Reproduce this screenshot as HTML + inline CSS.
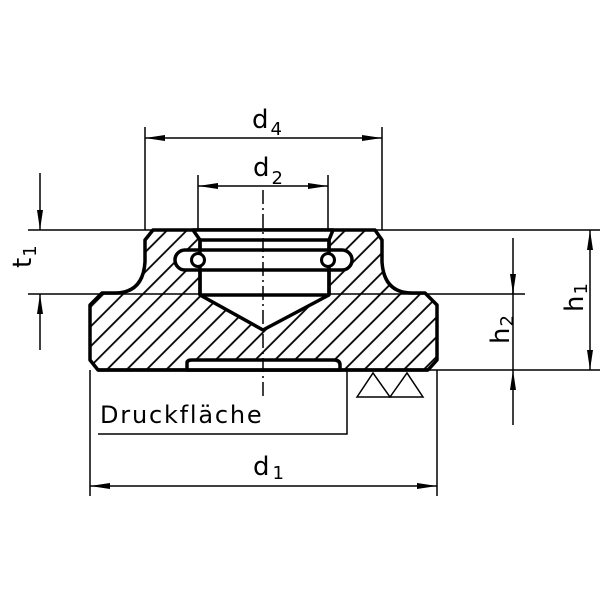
<!DOCTYPE html>
<html><head><meta charset="utf-8"><style>
html,body{margin:0;padding:0;background:#fff}
svg{display:block}
text{font-family:"DejaVu Sans","Liberation Sans",sans-serif;fill:#000}
</style></head><body>
<svg width="600" height="600" viewBox="0 0 600 600" xmlns="http://www.w3.org/2000/svg">
<defs>
<pattern id="h" patternUnits="userSpaceOnUse" width="14" height="14" patternTransform="rotate(45)">
<line x1="1" y1="0" x2="1" y2="14" stroke="#000" stroke-width="1.8"/>
</pattern>
<marker id="a" viewBox="0 0 20 6" refX="20" refY="3" markerWidth="20" markerHeight="6" markerUnits="userSpaceOnUse" orient="auto-start-reverse">
<path d="M0,0 L20,3 L0,6 Z" fill="#000"/>
</marker>
</defs>
<g stroke="#000" stroke-width="1.5" fill="none">
<line x1="28" y1="230" x2="600" y2="230"/>
<line x1="28" y1="294" x2="525" y2="294"/>
<line x1="340" y1="370" x2="600" y2="370"/>
<line x1="145" y1="127" x2="145" y2="230"/>
<line x1="382" y1="127" x2="382" y2="230"/>
<line x1="198" y1="175" x2="198" y2="230"/>
<line x1="328" y1="175" x2="328" y2="230"/>
<line x1="90" y1="370" x2="90" y2="496"/>
<line x1="437" y1="370" x2="437" y2="496"/>
<line x1="145" y1="138" x2="382" y2="138" marker-start="url(#a)" marker-end="url(#a)"/>
<line x1="198" y1="186" x2="328" y2="186" marker-start="url(#a)" marker-end="url(#a)"/>
<line x1="90" y1="486" x2="437" y2="486" marker-start="url(#a)" marker-end="url(#a)"/>
<line x1="590" y1="230" x2="590" y2="370" marker-start="url(#a)" marker-end="url(#a)"/>
<line x1="40" y1="173" x2="40" y2="230" marker-end="url(#a)"/>
<line x1="40" y1="350" x2="40" y2="294" marker-end="url(#a)"/>
<line x1="513" y1="238" x2="513" y2="294"/>
<line x1="513" y1="274" x2="513" y2="294" marker-end="url(#a)"/>
<line x1="513" y1="294" x2="513" y2="370"/>
<line x1="513" y1="425" x2="513" y2="370" marker-end="url(#a)"/>
<polyline points="347,370 347,434 98,434"/>
<polygon points="357,397 373,373 390,397"/>
<polygon points="390,397 407,373 423,397"/>
</g>
<path d="M153,230 L375,230 L382,240 L382,262 Q384,293 412,293 L425,293 L437,305 L437,360 L428,370 L98,370 L90,360 L90,305 L102,293 L115,293 Q143,293 145,262 L145,240 Z" fill="url(#h)" stroke="#000" stroke-width="3.5" stroke-linejoin="round"/>
<g fill="#fff" stroke="#000" stroke-width="3.5" stroke-linejoin="round">
<path d="M193,230 L333,230 L329,240 L329,295 L263,330 L200,295 L200,240 Z"/>
<rect x="175" y="250" width="177" height="20" rx="10" ry="10"/>
<path d="M187,370 L187,363 Q187,360 192,360 L334,360 Q340,360 340,365 L340,370 Z"/>
</g>
<g stroke="#000" stroke-width="3.5" fill="none">
<line x1="200" y1="240" x2="329" y2="240"/>
<line x1="200" y1="295" x2="329" y2="295"/>
<line x1="200" y1="240" x2="200" y2="295"/>
<line x1="329" y1="240" x2="329" y2="295"/>
<line x1="98" y1="370" x2="428" y2="370"/>
</g>
<g fill="#fff" stroke="#000" stroke-width="3">
<circle cx="198" cy="260" r="6.5"/>
<circle cx="328" cy="260" r="6.5"/>
</g>
<line x1="263" y1="190" x2="263" y2="400" stroke="#000" stroke-width="1.5" stroke-dasharray="14,4,2,4"/>
<text x="252" y="128" font-size="26">d<tspan font-size="18" dx="2" dy="7">4</tspan></text>
<text x="253" y="176" font-size="26">d<tspan font-size="18" dx="2" dy="8">2</tspan></text>
<text x="253" y="475" font-size="26">d<tspan font-size="18" dx="3" dy="4">1</tspan></text>
<text x="100" y="423" font-size="24" letter-spacing="1.8">Druckfläche</text>
<text transform="translate(31,268) rotate(-90)" font-size="26">t<tspan font-size="18" dx="1" dy="5">1</tspan></text>
<text transform="translate(509,344) rotate(-90)" font-size="26">h<tspan font-size="18" dx="1" dy="4">2</tspan></text>
<text transform="translate(583,312) rotate(-90)" font-size="26">h<tspan font-size="18" dx="1" dy="4">1</tspan></text>
</svg>
</body></html>
